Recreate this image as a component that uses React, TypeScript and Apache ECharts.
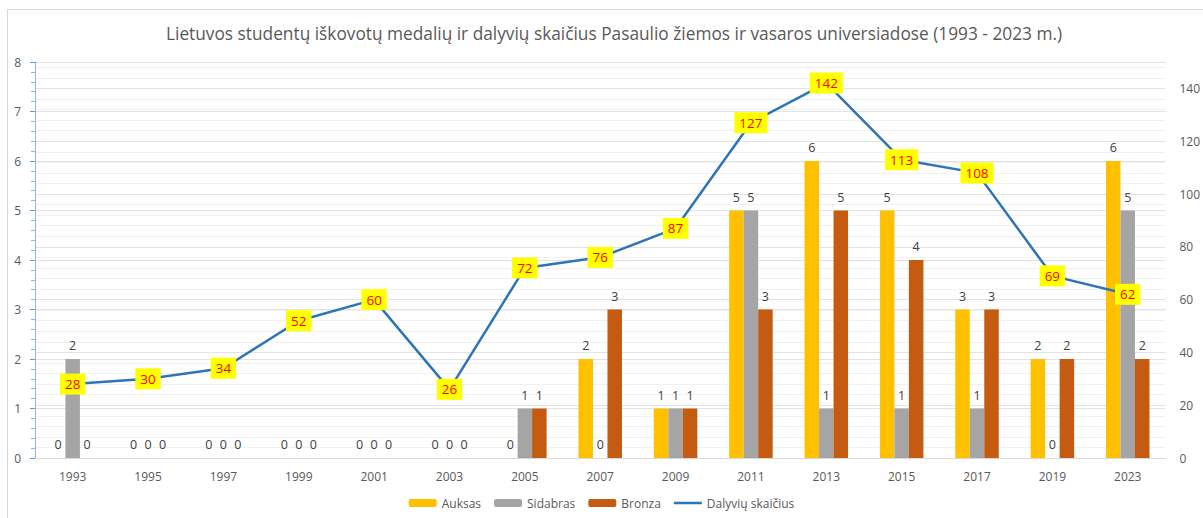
import React, { useEffect, useRef } from "react";
import * as echarts from "echarts";

const titleText =
  "Lietuvos studentų iškovotų medalių ir dalyvių skaičius Pasaulio žiemos ir vasaros universiadose (1993 - 2023 m.)";
const years = ["1993", "1995", "1997", "1999", "2001", "2003", "2005", "2007", "2009", "2011", "2013", "2015", "2017", "2019", "2023"];
const gold = [0, 0, 0, 0, 0, 0, 0, 2, 1, 5, 6, 5, 3, 2, 6];
const silver = [2, 0, 0, 0, 0, 0, 1, 0, 1, 5, 1, 1, 1, 0, 5];
const bronze = [0, 0, 0, 0, 0, 0, 1, 3, 1, 3, 5, 4, 3, 2, 2];
const participants = [28, 30, 34, 52, 60, 26, 72, 76, 87, 127, 142, 113, 108, 69, 62];

const FONT = "'Open Sans', 'Noto Sans', sans-serif";

export default function App() {
  const ref = useRef<HTMLDivElement>(null);
  useEffect(() => {
    if (!ref.current) return;
    const chart = echarts.init(ref.current, undefined, { renderer: "svg" });
    const barLabel = {
      show: true,
      position: "top" as const,
      color: "#404040",
      fontSize: 12.5,
      fontFamily: FONT,
      distance: 7,
    };
    chart.setOption({
      animation: false,
      backgroundColor: "#ffffff",
      textStyle: { fontFamily: FONT },
      title: {
        text: titleText,
        left: 161,
        top: 20,
        textStyle: { color: "#595959", fontSize: 17.3, fontWeight: "normal", fontFamily: FONT },
      },
      graphic: [
        {
          type: "rect",
          shape: { x: 7.5, y: 9.5, width: 1210, height: 520 },
          style: { fill: "none", stroke: "#D9D9D9", lineWidth: 1 },
          silent: true,
        },
      ],
      legend: {
        bottom: 4,
        left: "center",
        itemWidth: 28,
        itemHeight: 8,
        itemGap: 13,
        textStyle: { color: "#595959", fontSize: 12, fontFamily: FONT },
        data: [
          "Auksas",
          "Sidabras",
          "Bronza",
          { name: "Dalyvių skaičius", icon: "path://M0,0L28,0L28,2.5L0,2.5Z" },
        ],
      },
      grid: { left: 35, right: 30, top: 62, bottom: 60, containLabel: false },
      xAxis: {
        type: "category",
        data: years,
        axisLine: { show: true, lineStyle: { color: "#D9D9D9" } },
        axisTick: { show: false },
        axisLabel: { color: "#595959", fontSize: 12, margin: 12, fontFamily: FONT },
      },
      yAxis: [
        {
          type: "value",
          min: 0,
          max: 8,
          interval: 1,
          axisLine: { show: true, lineStyle: { color: "#8DB7E0" } },
          axisTick: { show: true, length: 5, lineStyle: { color: "#5B9BD5" } },
          minorTick: { show: true, splitNumber: 5, length: 4, lineStyle: { color: "#8DB7E0" } },
          axisLabel: { color: "#595959", fontSize: 12, margin: 14, fontFamily: FONT },
          splitLine: { show: true, lineStyle: { color: "#E3E3E3" } },
        },
        {
          type: "value",
          min: 0,
          max: 150,
          interval: 20,
          axisLine: { show: false },
          axisTick: { show: false },
          axisLabel: { color: "#595959", fontSize: 12, margin: 14, showMaxLabel: false, fontFamily: FONT },
          splitLine: { show: true, lineStyle: { color: "#E3E3E3" } },
          minorTick: { show: false, splitNumber: 5 },
          minorSplitLine: { show: true, lineStyle: { color: "#F1F1F1" } },
        },
      ],
      series: [
        {
          name: "Auksas",
          type: "bar",
          data: gold,
          barWidth: 14.5,
          barGap: "0%",
          itemStyle: { color: "#FFC000" },
          label: barLabel,
        },
        {
          name: "Sidabras",
          type: "bar",
          data: silver,
          barWidth: 14.5,
          barGap: "0%",
          itemStyle: { color: "#A5A5A5" },
          label: barLabel,
        },
        {
          name: "Bronza",
          type: "bar",
          data: bronze,
          barWidth: 14.5,
          barGap: "0%",
          itemStyle: { color: "#C55A11" },
          label: barLabel,
        },
        {
          name: "Dalyvių skaičius",
          type: "line",
          yAxisIndex: 1,
          data: participants,
          symbol: "circle",
          symbolSize: 1,
          showSymbol: true,
          lineStyle: { color: "#2E75B6", width: 2.5 },
          itemStyle: { color: "#2E75B6" },
          z: 5,
          label: {
            show: true,
            position: "inside",
            color: "#FF0000",
            fontSize: 13.5,
            fontFamily: FONT,
            backgroundColor: "#FFFF00",
            padding: [4, 5, 3, 5],
          },
        },
      ],
    });
    return () => chart.dispose();
  }, []);
  return (
    <div
      ref={ref}
      style={{ position: "fixed", left: 0, top: 0, width: 1203, height: 518 }}
    />
  );
}
